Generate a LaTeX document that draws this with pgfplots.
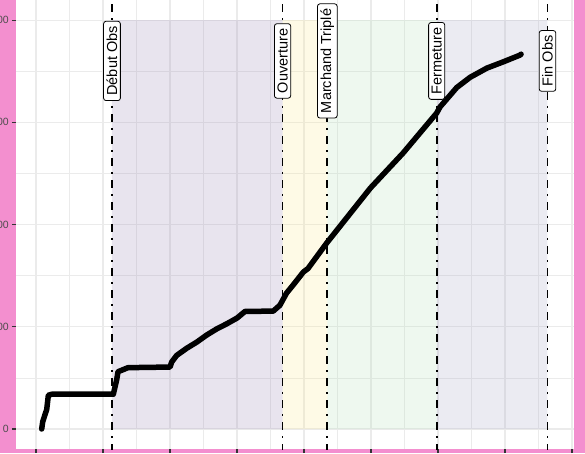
\documentclass[border=0pt]{standalone}
\usepackage{pgfplots}
\pgfplotsset{compat=1.18}
\usepackage{fontspec}
\setmainfont{Liberation Sans}
\definecolor{bgpink}{RGB}{243,143,207}
\definecolor{gridc}{RGB}{235,235,235}
\definecolor{tickc}{RGB}{51,51,51}
\definecolor{labc}{RGB}{77,77,77}
\definecolor{cpurple}{RGB}{140,120,170}
\definecolor{cyellow}{RGB}{250,230,130}
\definecolor{cgreen}{RGB}{170,220,175}
\definecolor{cblue}{RGB}{155,155,190}
\begin{document}
\begin{tikzpicture}
\path[use as bounding box] (0,0) rectangle (585pt,453pt);
\fill[bgpink] (0,0) rectangle (585pt,453pt);
\begin{axis}[
  at={(16pt,4pt)}, anchor=south west,
  scale only axis, width=558pt, height=449pt,
  xmin=-0.2985, xmax=8.0299, ymin=-19.56, ymax=419.6,
  xtick={0,1,...,8}, ytick={0,100,200,300,400},
  xticklabels={},
  minor x tick num=1, minor y tick num=1,
  grid=both,
  major grid style={gridc, line width=1.07pt},
  minor grid style={gridc, line width=0.55pt},
  axis line style={draw=none},
  axis background/.style={fill=white},
  tick align=outside,
  major tick length=4pt, minor tick length=0pt,
  xtick pos=bottom, ytick pos=left,
  major tick style={tickc, line width=1.07pt},
  /pgf/number format/assume math mode=true,
  yticklabel style={font=\fontsize{10.5}{10.5}\selectfont, text=labc, inner sep=0pt, anchor=east, xshift=-3pt},
  clip=true,
]
% shaded periods
\addplot[draw=none, fill=cpurple, fill opacity=0.2] coordinates {(1.134,0) (3.68,0) (3.68,400) (1.134,400) (1.134,0)};
\addplot[draw=none, fill=cyellow, fill opacity=0.2] coordinates {(3.68,0) (4.348,0) (4.348,400) (3.68,400) (3.68,0)};
\addplot[draw=none, fill=cgreen, fill opacity=0.2] coordinates {(4.348,0) (5.98,0) (5.98,400) (4.348,400) (4.348,0)};
\addplot[draw=none, fill=cblue, fill opacity=0.2] coordinates {(5.98,0) (7.634,0) (7.634,400) (5.98,400) (5.98,0)};
% vertical event lines
\pgfplotsset{evline/.style={black, line width=1.8pt, dash pattern=on 2pt off 6pt on 8pt off 6pt}}
\addplot[evline] coordinates {(1.134,-30) (1.134,430)};
\addplot[evline] coordinates {(3.68,-30) (3.68,430)};
\addplot[evline] coordinates {(4.348,-30) (4.348,430)};
\addplot[evline] coordinates {(5.98,-30) (5.98,430)};
\addplot[evline] coordinates {(7.634,-30) (7.634,430)};
% cumulative line
\addplot[black, line width=5.5pt, line join=round, line cap=round] coordinates {
(0.085,0) (0.10,7) (0.134,14) (0.16,19) (0.184,33) (0.234,34) (1.154,34) (1.204,48) (1.224,56) (1.373,60) (2.0,60.6) (2.025,65.5) (2.10,72) (2.25,79) (2.40,85) (2.55,92) (2.70,98) (2.85,103) (3.0,108.5) (3.12,115) (3.54,115.3) (3.64,121) (3.74,133) (3.84,141) (3.99,153.5) (4.06,157) (4.34,182) (4.99,235.6) (5.48,270) (5.98,309) (6.03,315) (6.28,334) (6.48,344) (6.73,353) (6.97,359) (7.22,365.6) (7.24,366.6)
};
% labels
\tikzset{evlab/.style={draw=black, line width=0.8pt, fill=white, rounded corners=2.5pt, rotate=90, inner xsep=5pt, inner ysep=3pt, font=\fontsize{14.5}{14.5}\selectfont, text=black}}
\node[evlab] at (axis cs:1.134,360) {Début Obs};
\node[evlab] at (axis cs:3.68,360) {Ouverture};
\node[evlab] at (axis cs:4.348,360) {Marchand Triplé};
\node[evlab] at (axis cs:5.98,360) {Fermeture};
\node[evlab] at (axis cs:7.634,360) {Fin Obs};
\end{axis}
\end{tikzpicture}
\end{document}
